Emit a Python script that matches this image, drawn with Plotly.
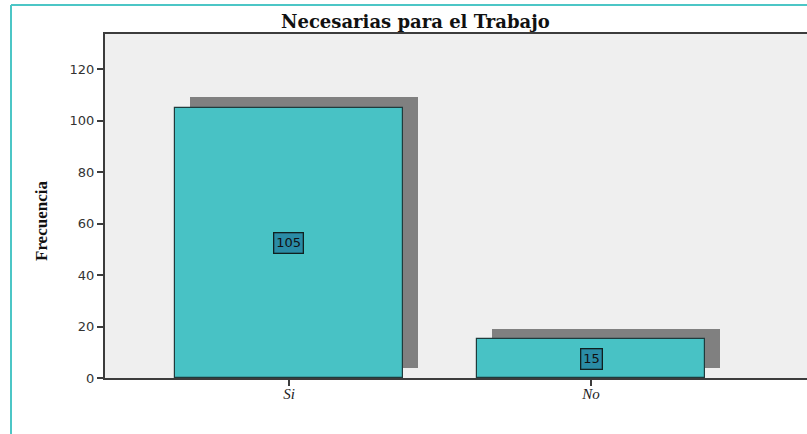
import plotly.graph_objects as go

# Data
categories = ["Si", "No"]
frequencies = [105, 15]
y_ticks = [0, 20, 40, 60, 80, 100, 120]

title_text = "Necesarias para el Trabajo"
y_title = "Frecuencia"

# Geometry (pixels) of the figure
W, H = 807, 434
ML, MR, MT, MB = 105, 0, 34, 56
plot_w = W - ML - MR
plot_h = H - MT - MB

y_max = 133.6
x_range = [-0.609, 1.715]
px_per_x = plot_w / (x_range[1] - x_range[0])
px_per_y = plot_h / y_max

bar_width = 0.752
shadow_dx = 15 / px_per_x
shadow_dy = 10.5 / px_per_y

fig = go.Figure()

# drop shadow behind each bar
fig.add_trace(go.Bar(
    x=categories,
    y=frequencies,
    base=[shadow_dy] * len(frequencies),
    width=bar_width,
    offset=-bar_width / 2 + shadow_dx,
    marker=dict(color="#808080", line=dict(width=0)),
    hoverinfo="skip",
    showlegend=False,
))

# main bars
fig.add_trace(go.Bar(
    x=categories,
    y=frequencies,
    width=bar_width,
    offset=-bar_width / 2,
    marker=dict(color="#48c2c5", line=dict(color="#1f3b3c", width=1.2)),
    showlegend=False,
))

# value labels in boxes at bar centres
for cat, val in zip(categories, frequencies):
    fig.add_annotation(
        x=cat, y=val / 2, text=str(val), showarrow=False,
        font=dict(family="DejaVu Sans", size=13, color="#111111"),
        bgcolor="#2a8ca6", bordercolor="#102020", borderwidth=1.3, borderpad=2,
    )

# title
fig.add_annotation(
    xref="paper", yref="paper",
    x=(415 - ML) / plot_w, y=1 + (MT - 22) / plot_h,
    xanchor="center", yanchor="middle",
    text=f"<b>{title_text}</b>", showarrow=False,
    font=dict(family="DejaVu Serif", size=18, color="#111111"),
)

# y-axis title
fig.add_annotation(
    xref="paper", yref="paper",
    x=(41 - ML) / plot_w, y=(H - MB - 221) / plot_h,
    xanchor="center", yanchor="middle", textangle=-90,
    text=f"<b>{y_title}</b>", showarrow=False,
    font=dict(family="Liberation Serif", size=17, color="#111111"),
)

# teal frame on the top and left edges
x_left = (11 - ML) / plot_w
y_top = 1 + (MT - 5) / plot_h
y_bot = -(MB) / plot_h
frame = dict(color="#4cc6c6", width=2)
fig.add_shape(type="line", xref="paper", yref="paper",
              x0=x_left, x1=x_left, y0=y_bot, y1=y_top, line=frame)
fig.add_shape(type="line", xref="paper", yref="paper",
              x0=x_left, x1=1.0, y0=y_top, y1=y_top, line=frame)

fig.update_layout(
    width=W, height=H,
    margin=dict(l=ML, r=MR, t=MT, b=MB, pad=0),
    paper_bgcolor="white",
    plot_bgcolor="#efefef",
    barmode="overlay",
    bargap=0,
    xaxis=dict(
        type="category",
        range=x_range,
        showline=True, linecolor="#3c3c3c", linewidth=2, mirror=True,
        ticks="outside", ticklen=6, tickwidth=1.5, tickcolor="#3c3c3c",
        ticklabelstandoff=-5,
        showgrid=False, zeroline=False,
        tickfont=dict(family="Liberation Serif", size=15, color="#222222", style="italic"),
    ),
    yaxis=dict(
        range=[0, y_max],
        tickvals=y_ticks,
        showline=True, linecolor="#3c3c3c", linewidth=2,
        ticks="outside", ticklen=6, tickwidth=1.5, tickcolor="#3c3c3c",
        showgrid=False, zeroline=False,
        tickfont=dict(family="DejaVu Sans", size=13, color="#333333"),
    ),
)

fig.write_html("out.html")
